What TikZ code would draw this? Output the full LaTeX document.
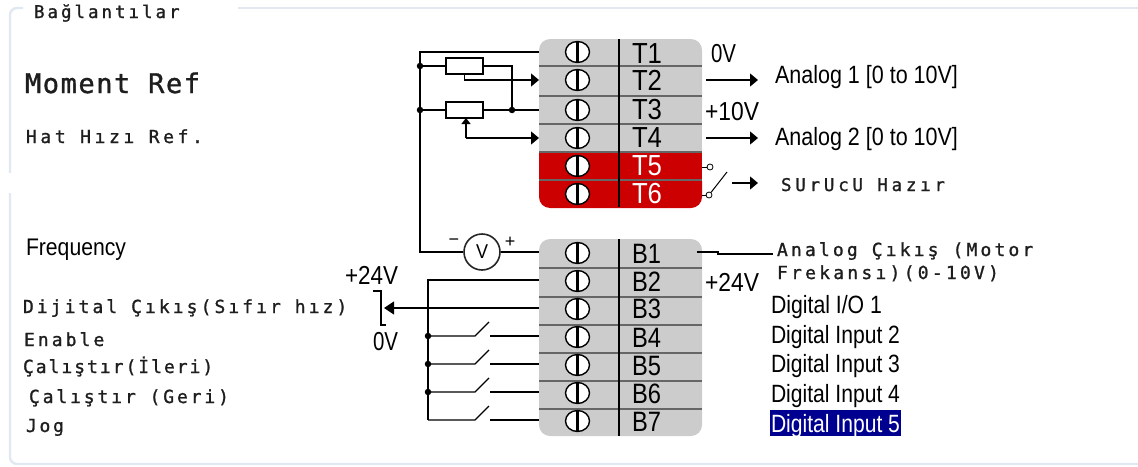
\documentclass[tikz,border=0pt]{standalone}
\usepackage{fontspec}
\usepackage{graphicx}
\usetikzlibrary{arrows.meta,calc,shapes.geometric}
\setmainfont{Liberation Sans}
\newfontfamily\monof{DejaVu Sans Mono}
\definecolor{framec}{HTML}{E1E8EF}
\definecolor{panelc}{HTML}{CCCCCC}
\definecolor{redc}{HTML}{CC0000}
\definecolor{rowc}{HTML}{666666}
\definecolor{monoc}{HTML}{1E1E1E}
\definecolor{hlc}{HTML}{000090}
% stretched sans label: width, font size, text
\newcommand{\sft}[3]{\resizebox{#1pt}{\height}{\fontsize{#2}{#2}\selectfont #3}}
% letterspaced mono label: size, spacing, text
\newcommand{\mnt}[3]{{\monof\addfontfeature{LetterSpace=#2,FakeBold=1.2}\fontsize{#1}{#1}\selectfont\textcolor{monoc}{#3}}}
\tikzset{
  x=1pt,y=-1pt,
  framel/.style={draw=framec,line width=2.4pt,line cap=butt,rounded corners=7pt},
  wire/.style={draw=black,line width=1.3pt},
  arrowed/.style={wire,-{Triangle[length=8pt,width=13pt]}},
  lbl/.style={inner sep=0pt,outer sep=0pt,anchor=base west},
  rowbox/.style={inner sep=0pt,outer sep=0pt,minimum width=163pt,minimum height=28pt},
  screw/.style={ellipse,draw=black,fill=white,line width=1.4pt,inner sep=0pt,minimum width=24pt,minimum height=21pt},
  res/.style={draw=black,fill=white,line width=1.3pt,inner sep=0pt,outer sep=0pt,minimum width=37pt,minimum height=16pt},
  dotn/.style={circle,fill=black,inner sep=0pt,minimum size=6.5pt},
  ring/.style={circle,draw=black,fill=white,line width=.8pt,inner sep=0pt,minimum size=6pt},
  meter/.style={circle,draw=black!85,fill=white,line width=1.6pt,inner sep=0pt,minimum size=36pt},
}
\begin{document}
\begin{tikzpicture}
\useasboundingbox (0,0) rectangle (1138,466);
% frame
\path[framel] (23,8) -- (10,8) -- (10,173);
\path[framel] (10,193) -- (10,464) -- (1138,464);
\path[framel] (238,8) -- (1138,8);
% panels
\fill[panelc,rounded corners=11pt] (539,39) rectangle (702,120);
\fill[panelc] (539,70) rectangle (702,152);
\fill[redc,rounded corners=11pt] (539,170) rectangle (702,208);
\fill[redc] (539,152) rectangle (702,185);
\fill[panelc,rounded corners=11pt] (539,239) rectangle (702,436);
% terminal rows
\foreach \n/\y in {t1/52,t2/80,t3/110,t4/138,t5/166,t6/194,b1/253,b2/280,b3/308,b4/336,b5/364,b6/392,b7/420}
  \node[rowbox] (\n) at (620.5,\y) {};
\foreach \y in {66,96,124,152,180,268,297,325,353,381,409}
  \draw[rowc,line width=1.2pt] (539,\y) -- (702,\y);
\draw[black,line width=1.5pt] (619,39) -- (619,207);
\draw[black,line width=1.5pt] (619,239) -- (619,436);
% screws
\foreach \n/\y in {s1/52,s2/80,s3/110,s4/138,s5/166,s6/194,s7/253,s8/281,s9/309,s10/337,s11/365,s12/393,s13/421}{
  \node[screw] (\n) at (577.5,\y) {};
  \draw[black,line width=3.4pt] (\n.north) -- (\n.south);
}
% terminal names
\foreach \n/\y in {T1/63,T2/90,T3/119,T4/147}
  \node[lbl] (lab\n) at (632,\y) {\sft{30}{29}{\n}};
\foreach \n/\y in {T5/175,T6/203}
  \node[lbl,text=white] (lab\n) at (632,\y) {\sft{30}{29}{\n}};
\foreach \n/\y in {B1/263,B2/291,B3/318,B4/347,B5/375,B6/403,B7/431}
  \node[lbl] (lab\n) at (632,\y) {\sft{29}{28}{\n}};
% potentiometers and top wiring
\coordinate (ja) at (420,66);
\coordinate (jb) at (420,110);
\coordinate (jc) at (512,110);
\node[res] (r1) at (464.5,66) {};
\node[res] (r2) at (464.5,110) {};
\coordinate (m1) at (420,252);
\node[meter] (vm) at (482,252) {};
\node[lbl,anchor=center] (vl) at (482,252) {\sft{12}{20}{V}};
\draw[wire] (t1.west) -- (420,52) -- (m1) -- (vm.west);
\draw[wire] (vm.east) -- (b1.west |- vm.east);
\draw[wire] (ja) -- (r1.west);
\draw[wire] (r1.east) -| (jc);
\draw[wire] (jb) -- (r2.west);
\draw[wire] (r2.east) -- (t3.west);
\draw[arrowed] (r1.south) -- (464.5,80) -- (t2.west);
\coordinate (w2) at (466,138);
\coordinate (w2t) at (466,118);
\draw[wire,-{Triangle[length=6pt,width=9pt]}] (w2) -- (w2t);
\draw[arrowed] (w2) -- (t4.west);
\foreach \p in {ja,jb,jc} \node[dotn] at (\p) {};
\node[lbl,anchor=center] (vminus) at (454,242) {\fontsize{18}{18}\selectfont −};
\node[lbl,anchor=center] (vplus) at (510,242) {\fontsize{18}{18}\selectfont +};
% right-hand side of the upper block
\coordinate (a1s) at (706,80);
\coordinate (a1e) at (758,80);
\coordinate (a2s) at (706,138);
\coordinate (a2e) at (758,138);
\draw[arrowed] (a1s) -- (a1e);
\draw[arrowed] (a2s) -- (a2e);
\node[lbl] (ov1) at (711,62) {\sft{25}{26}{0V}};
\node[lbl] (ten) at (705,120) {\sft{54}{26}{+10V}};
\node[lbl] (an1) at (775,83) {\sft{183}{25}{Analog 1 [0 to 10V]}};
\node[lbl] (an2) at (775,145) {\sft{183}{25}{Analog 2 [0 to 10V]}};
\node[ring] (c5) at (710,167) {};
\node[ring] (c6) at (709,195) {};
\draw[wire,line width=1pt] (t5.east |- c5) -- (c5);
\draw[wire,line width=1pt] (t6.east |- c6) -- (c6);
\coordinate (swe) at (727,172);
\draw[wire,line width=1pt] (c6) -- (swe);
\coordinate (rds) at (732,183);
\coordinate (rde) at (758,183);
\draw[arrowed] (rds) -- (rde);
\node[lbl] (sur) at (781,191) {\mnt{17.5}{21.5}{SUrUcU Hazır}};
% analog output
\node[lbl] (ao1) at (777,256) {\mnt{18}{17.5}{Analog Çıkış (Motor}};
\node[lbl] (ao2) at (777,279) {\mnt{18}{18}{Frekansı)(0-10V)}};
\coordinate (aoa) at (697,252);
\coordinate (aob) at (718,252);
\coordinate (aoc) at (718,254);
\coordinate (aod) at (773,254);
\draw[wire,line width=1.1pt] (aoa) -- (aob) -- (aoc) -- (aod);
\node[lbl] (p24r) at (705,291) {\sft{54}{26}{+24V}};
% digital labels
\fill[hlc] (770,410) rectangle (901,436);
\node[lbl] (d1) at (771,313) {\sft{111}{25}{Digital I/O 1}};
\node[lbl] (d2) at (771,343) {\sft{129}{25}{Digital Input 2}};
\node[lbl] (d3) at (771,372) {\sft{129}{25}{Digital Input 3}};
\node[lbl] (d4) at (771,402) {\sft{129}{25}{Digital Input 4}};
\node[lbl,text=white] (d5) at (771,432) {\sft{129}{25}{Digital Input 5}};
% lower-left wiring
\coordinate (bus) at (428,280);
\coordinate (busb) at (428,420);
\draw[wire] (b2.west) -- (bus) -- (busb);
\coordinate (tip) at (384,308);
\draw[wire,-{Triangle[length=10pt,width=13pt]}] (b3.west) -- (tip);
\coordinate (bra) at (373,291);
\coordinate (brb) at (381,291);
\coordinate (brc) at (381,325);
\coordinate (brd) at (386,325);
\draw[wire] (bra) -- (brb) -- (brc) -- (brd);
\foreach \r/\y in {b4/336,b5/364,b6/392,b7/420}{
  \coordinate (sa\r) at (475,\y);
  \coordinate (sb\r) at (490,\y);
  \coordinate (sc\r) at (489,\y-14);
  \coordinate (jn\r) at (428,\y);
  \draw[wire] (jn\r) -- (sa\r) -- (sc\r);
  \draw[wire] (sb\r) -- (\r.west);
}
\foreach \r in {b4,b5,b6} \node[dotn] at (jn\r) {};
\node[lbl] (p24l) at (345,284) {\sft{53}{26}{+24V}};
\node[lbl] (ovl) at (373,350) {\sft{25}{26}{0V}};
% left-hand labels
\node[lbl] (title) at (34,18) {\mnt{17.5}{17}{Bağlantılar}};
\node[lbl] (mom) at (25,93) {\mnt{27}{5.8}{Moment Ref}};
\node[lbl] (hat) at (26,143) {\mnt{18}{20}{Hat Hızı Ref.}};
\node[lbl] (frq) at (26,255) {\sft{100}{24}{Frequency}};
\node[lbl] (dij) at (23,313) {\mnt{18}{17}{Dijital Çıkış(Sıfır hız)}};
\node[lbl] (ena) at (24,346) {\mnt{18}{17}{Enable}};
\node[lbl] (ileri) at (23,373) {\mnt{18}{11}{Çalıştır(İleri)}};
\node[lbl] (geri) at (29,403) {\mnt{18}{16}{Çalıştır (Geri)}};
\node[lbl] (jog) at (26,432) {\mnt{18}{15}{Jog}};
\end{tikzpicture}
\end{document}
